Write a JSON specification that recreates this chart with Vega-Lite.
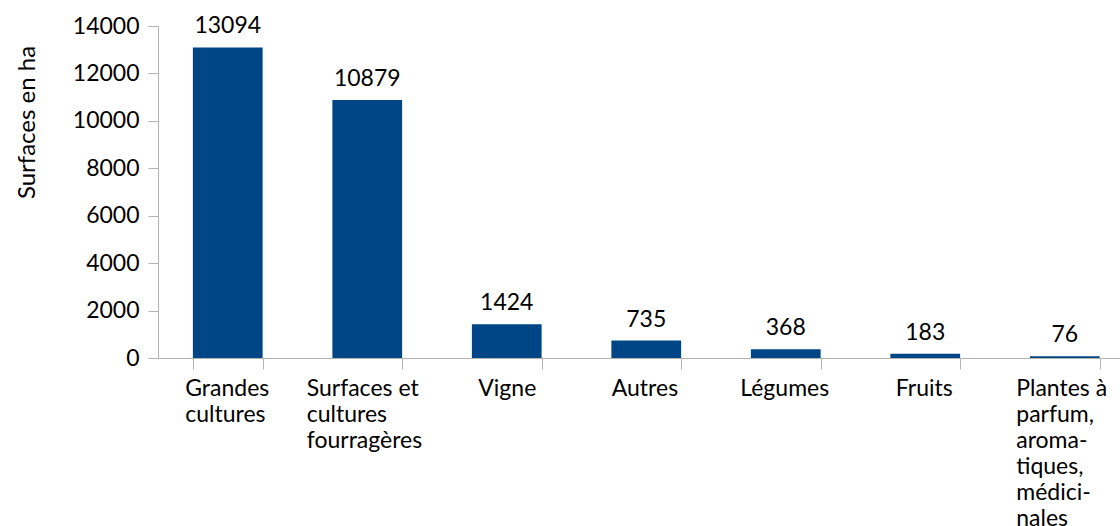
{
  "$schema": "https://vega.github.io/schema/vega-lite/v6.json",
  "width": 962,
  "height": 332,
  "autosize": "none",
  "padding": {"left": 158, "top": 26, "right": 0, "bottom": 168},
  "background": "white",
  "config": {"view": {"stroke": null}, "font": "Lato"},
  "data": {
    "values": [
      {"culture": "Grandes|cultures", "surface": 13094},
      {"culture": "Surfaces et|cultures|fourragères", "surface": 10879},
      {"culture": "Vigne", "surface": 1424},
      {"culture": "Autres", "surface": 735},
      {"culture": "Légumes", "surface": 368},
      {"culture": "Fruits", "surface": 183},
      {"culture": "Plantes à|parfum,|aroma-|tiques,|médici-|nales", "surface": 76}
    ]
  },
  "encoding": {
    "x": {
      "field": "culture",
      "type": "nominal",
      "sort": null,
      "scale": {"range": [0, 976.5], "paddingInner": 0.5, "paddingOuter": 0.25},
      "axis": {
        "title": null,
        "labelAngle": 0,
        "labelExpr": "split(datum.label, '|')",
        "labelAlign": "left",
        "labelBaseline": "top",
        "labelOffset": {"expr": "datum.value == 'Grandes|cultures' ? -43 : datum.value == 'Surfaces et|cultures|fourragères' ? -61 : datum.value == 'Vigne' ? -29 : datum.value == 'Autres' ? -35 : datum.value == 'Légumes' ? -46 : datum.value == 'Fruits' ? -30 : -49"},
        "labelFontSize": 23,
        "labelLineHeight": 26,
        "labelColor": "black",
        "labelPadding": 8,
        "tickBand": "extent",
        "tickSize": 11,
        "tickColor": "#b3b3b3",
        "domainColor": "#b3b3b3",
        "labelOverlap": false,
        "labelLimit": 0
      }
    },
    "y": {
      "field": "surface",
      "type": "quantitative",
      "scale": {"domain": [0, 14000]},
      "axis": {
        "title": "Surfaces en ha",
        "titleFontSize": 24,
        "titleFontWeight": "normal",
        "titleColor": "black",
        "titleX": -131,
        "titleY": 96,
        "titleAngle": -90,
        "titleAlign": "center",
        "titleBaseline": "middle",
        "values": [0, 2000, 4000, 6000, 8000, 10000, 12000, 14000],
        "format": "d",
        "grid": false,
        "labelFontSize": 23,
        "labelColor": "black",
        "labelPadding": 9,
        "tickSize": 10,
        "tickColor": "#b3b3b3",
        "domainColor": "#b3b3b3"
      }
    }
  },
  "layer": [
    {"mark": {"type": "bar", "color": "#004586"}},
    {"mark": {"type": "text", "fontSize": 23, "color": "black", "baseline": "alphabetic", "dy": -14}, "encoding": {"text": {"field": "surface", "type": "quantitative", "format": "d"}}}
  ]
}
